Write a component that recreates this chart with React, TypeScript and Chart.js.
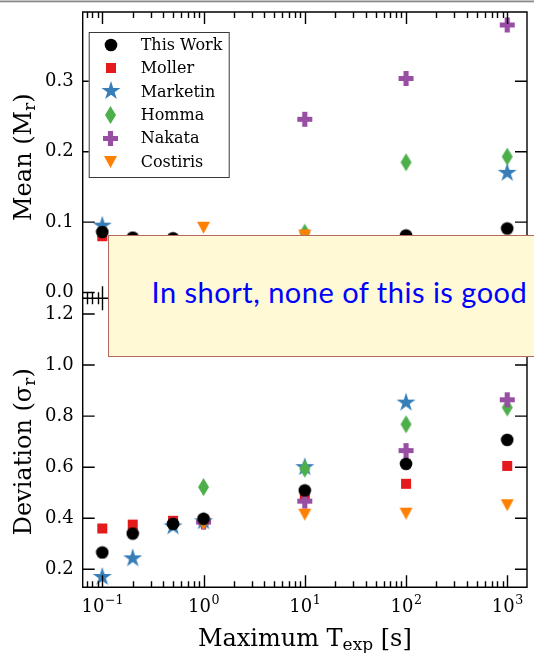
import React, { useEffect, useRef } from 'react';
import { Chart, registerables } from 'chart.js';

Chart.register(...registerables);

// ---------------- data ----------------
const tExp = [0.1, 0.2, 0.5, 1, 10, 100, 1000];

const seriesNames = ['This Work', 'Moller', 'Marketin', 'Homma', 'Nakata', 'Costiris'];
const seriesColors = ['#000000', '#e41a1c', '#377eb8', '#4daf4a', '#984ea3', '#ff7f00'];
const seriesMarkers = ['circle', 'square', 'star', 'thinDiamond', 'plus', 'triangleDown'];
// lower value = drawn on top
const seriesDrawOrder = [0, 5, 4, 3, 2, 1];

const meanThisWork = [0.086, 0.078, 0.077, 0.070, 0.068, 0.081, 0.091];
const meanMoller = [0.080, 0.072, 0.070, 0.066, 0.062, 0.064, 0.066];
const meanMarketin = [0.095, 0.066, 0.064, 0.062, 0.060, 0.068, 0.170];
const meanHomma = [null, null, null, 0.060, 0.085, 0.185, 0.193];
const meanNakata = [null, null, null, 0.055, 0.246, 0.304, 0.380];
const meanCostiris = [null, null, null, 0.092, 0.081, 0.068, 0.070];

const devThisWork = [0.266, 0.340, 0.378, 0.398, 0.509, 0.613, 0.707];
const devMoller = [0.360, 0.375, 0.390, 0.392, 0.485, 0.535, 0.605];
const devMarketin = [0.170, 0.243, 0.368, 0.388, 0.600, 0.853, 1.100];
const devHomma = [null, null, null, 0.522, 0.594, 0.768, 0.834];
const devNakata = [null, null, null, 0.385, 0.467, 0.665, 0.864];
const devCostiris = [null, null, null, 0.376, 0.414, 0.418, 0.451];

const meanRange = [-0.0082, 0.3984];
const devRange = [0.1295, 1.2615];
const xRange = [0.0641, 1567];
const meanStep = 0.1;
const devStep = 0.2;

const meanTitle = [{ t: 'Mean (M', s: false }, { t: 'r', s: true }, { t: ')', s: false }];
const devTitle = [{ t: 'Deviation (σ', s: false }, { t: 'r', s: true }, { t: ')', s: false }];
const xTitle = [{ t: 'Maximum T', s: false }, { t: 'exp', s: true }, { t: ' [s]', s: false }];
const annotationText = 'In short, none of this is good';

// ---------------- helpers ----------------
const SERIF = '"DejaVu Serif", serif';

function makeMarker(kind: string, color: string): HTMLCanvasElement {
  const sizes: Record<string, [number, number]> = {
    circle: [14, 14], square: [12, 12], star: [22, 22],
    thinDiamond: [13, 20], plus: [17, 17], triangleDown: [15, 14],
  };
  const [w, h] = sizes[kind];
  const c = document.createElement('canvas');
  c.width = w; c.height = h;
  const g = c.getContext('2d')!;
  g.fillStyle = color;
  g.beginPath();
  const cx = w / 2, cy = h / 2;
  if (kind === 'circle') {
    g.arc(cx, cy, 6.3, 0, Math.PI * 2);
  } else if (kind === 'square') {
    g.rect(cx - 5, cy - 5, 10, 10);
  } else if (kind === 'star') {
    const R = 10, r = R * 0.382;
    for (let i = 0; i < 10; i++) {
      const a = -Math.PI / 2 + (i * Math.PI) / 5;
      const rad = i % 2 === 0 ? R : r;
      const px = cx + rad * Math.cos(a), py = cy + rad * Math.sin(a);
      if (i === 0) g.moveTo(px, py); else g.lineTo(px, py);
    }
    g.closePath();
  } else if (kind === 'thinDiamond') {
    g.moveTo(cx, cy - 9); g.lineTo(cx + 5.5, cy); g.lineTo(cx, cy + 9); g.lineTo(cx - 5.5, cy); g.closePath();
  } else if (kind === 'plus') {
    const a = 7.5, b = 2.6;
    const pts = [[-b, -a], [b, -a], [b, -b], [a, -b], [a, b], [b, b], [b, a], [-b, a], [-b, b], [-a, b], [-a, -b], [-b, -b]];
    pts.forEach(([px, py], i) => (i === 0 ? g.moveTo(cx + px, cy + py) : g.lineTo(cx + px, cy + py)));
    g.closePath();
  } else if (kind === 'triangleDown') {
    g.moveTo(cx - 6.5, cy - 6); g.lineTo(cx + 6.5, cy - 6); g.lineTo(cx, cy + 6); g.closePath();
  }
  g.fill();
  return c;
}

function toPoints(arr: (number | null)[]) {
  return tExp.map((x, i) => ({ x, y: arr[i] })).filter((p) => p.y !== null);
}

function drawRich(ctx: CanvasRenderingContext2D, parts: { t: string; s: boolean }[], cx: number, baseY: number, mainPx: number, subPx: number, subDrop: number) {
  const mainFont = `${mainPx}px ${SERIF}`;
  const subFont = `${subPx}px ${SERIF}`;
  const widths = parts.map((p) => { ctx.font = p.s ? subFont : mainFont; return ctx.measureText(p.t).width; });
  const total = widths.reduce((a, b) => a + b, 0);
  let x = cx - total / 2;
  ctx.textAlign = 'left';
  ctx.textBaseline = 'alphabetic';
  parts.forEach((p, i) => {
    ctx.font = p.s ? subFont : mainFont;
    ctx.fillText(p.t, x, baseY + (p.s ? subDrop : 0));
    x += widths[i];
  });
}

const SUP: Record<string, string> = { '-': '−' };

export default function App() {
  const ref = useRef<HTMLCanvasElement>(null);

  useEffect(() => {
    const canvas = ref.current!;
    const markers = seriesMarkers.map((m, i) => makeMarker(m, seriesColors[i]));
    const meanSeries = [meanThisWork, meanMoller, meanMarketin, meanHomma, meanNakata, meanCostiris];
    const devSeries = [devThisWork, devMoller, devMarketin, devHomma, devNakata, devCostiris];

    const datasets: any[] = [];
    meanSeries.forEach((arr, i) => datasets.push({
      label: seriesNames[i], data: toPoints(arr), xAxisID: 'x', yAxisID: 'yMean',
      pointStyle: markers[i], pointRadius: 6, pointHoverRadius: 6, order: seriesDrawOrder[i],
      backgroundColor: seriesColors[i], borderColor: seriesColors[i], showLine: false, clip: false,
    }));
    devSeries.forEach((arr, i) => datasets.push({
      label: seriesNames[i], data: toPoints(arr), xAxisID: 'x', yAxisID: 'yDev',
      pointStyle: markers[i], pointRadius: 6, pointHoverRadius: 6, order: seriesDrawOrder[i],
      backgroundColor: seriesColors[i], borderColor: seriesColors[i], showLine: false, clip: false,
    }));

    const framePlugin = {
      id: 'mplFrame',
      afterDraw(chart: any) {
        const ctx: CanvasRenderingContext2D = chart.ctx;
        const xs = chart.scales.x, ym = chart.scales.yMean, yd = chart.scales.yDev;
        const L = chart.chartArea.left, R = chart.chartArea.right;
        ctx.save();
        ctx.strokeStyle = '#000';
        ctx.fillStyle = '#000';
        ctx.lineWidth = 1.4;
        const xTicks = xs.ticks
          .map((t: any) => t.value)
          .filter((v: number) => v >= xs.min && v <= xs.max)
          .filter((v: number) => {
            const e = Math.floor(Math.log10(v) + 1e-9);
            const m = v / Math.pow(10, e);
            return Math.abs(m - Math.round(m)) < 1e-6;
          });
        const isMajor = (v: number) => Math.abs(Math.log10(v) - Math.round(Math.log10(v))) < 1e-6;
        ctx.beginPath();
        for (const ys of [ym, yd]) {
          ctx.rect(L, ys.top, R - L, ys.bottom - ys.top);
          for (const v of xTicks) {
            const px = Math.round(xs.getPixelForValue(v)) + 0.5;
            const len = isMajor(v) ? 12 : 6;
            ctx.moveTo(px, ys.bottom); ctx.lineTo(px, ys.bottom - len);
            ctx.moveTo(px, ys.top); ctx.lineTo(px, ys.top + len);
          }
          for (const t of ys.ticks) {
            if (t.value < ys.min - 1e-9 || t.value > ys.max + 1e-9) continue;
            const py = ys.getPixelForValue(t.value);
            ctx.moveTo(L, py); ctx.lineTo(L + 12, py);
            ctx.moveTo(R, py); ctx.lineTo(R - 12, py);
          }
        }
        ctx.stroke();

        // x tick labels (10^n)
        for (const v of xTicks) {
          if (!isMajor(v)) continue;
          const e = Math.round(Math.log10(v));
          const expStr = String(e).split('').map((ch) => SUP[ch] || ch).join('');
          ctx.font = `18px ${SERIF}`;
          const wBase = ctx.measureText('10').width;
          ctx.font = `12.6px ${SERIF}`;
          const wExp = ctx.measureText(expStr).width;
          const px = xs.getPixelForValue(v);
          const x0 = px - (wBase + wExp) / 2;
          ctx.textAlign = 'left';
          ctx.textBaseline = 'alphabetic';
          ctx.font = `18px ${SERIF}`;
          ctx.fillText('10', x0, 612);
          ctx.font = `12.6px ${SERIF}`;
          ctx.fillText(expStr, x0 + wBase + 0.5, 603.5);
        }

        // axis titles
        drawRich(ctx, xTitle, (L + R) / 2, 646, 24, 17, 4);
        ctx.save();
        ctx.translate(31, (ym.top + ym.bottom) / 2 + 2);
        ctx.rotate(-Math.PI / 2);
        drawRich(ctx, meanTitle, 0, 0, 24, 17, 3.5);
        ctx.restore();
        ctx.save();
        ctx.translate(31, (yd.top + yd.bottom) / 2 + 9);
        ctx.rotate(-Math.PI / 2);
        drawRich(ctx, devTitle, 0, 0, 24, 17, 3.5);
        ctx.restore();

        // legend inside the upper panel
        const lx = L + 6, ly = ym.top + 20, lw = 140, lh = 145;
        ctx.fillStyle = '#ffffff';
        ctx.fillRect(lx, ly, lw, lh);
        ctx.strokeStyle = '#3a3a3a';
        ctx.lineWidth = 1;
        ctx.strokeRect(lx + 0.5, ly + 0.5, lw, lh);
        ctx.fillStyle = '#000';
        ctx.font = `16px ${SERIF}`;
        ctx.textAlign = 'left';
        ctx.textBaseline = 'middle';
        seriesNames.forEach((name, i) => {
          const cy = ly + 12.5 + i * 23.45;
          const m = markers[i];
          ctx.drawImage(m, Math.round(lx + 22 - m.width / 2), Math.round(cy - m.height / 2));
          ctx.fillText(name, lx + 52, cy + 1);
        });
        ctx.restore();
      },
    };

    const yCommon = {
      type: 'linear',
      position: 'left',
      stack: 'panels',
      grid: { display: false, drawTicks: false },
      border: { display: false },
      afterFit: (s: any) => {
        s.width = 82.7;
        s.paddingTop = 0;
        s.paddingBottom = 0;
        s.paddingLeft = 0;
        s.paddingRight = 0;
      },
    };

    const chart = new Chart(canvas, {
      type: 'scatter',
      data: { datasets },
      options: {
        responsive: false,
        animation: false,
        events: [],
        layout: { padding: { top: 12, right: 0.7, left: 0, bottom: 0 } },
        plugins: { legend: { display: false }, tooltip: { enabled: false } },
        scales: {
          x: {
            type: 'logarithmic',
            position: 'bottom',
            min: xRange[0],
            max: xRange[1],
            grid: { display: false, drawTicks: false },
            border: { display: false },
            ticks: { display: false, autoSkip: false },
            afterFit: (s: any) => {
              s.height = 653 - 587.3;
              s.paddingLeft = 0;
              s.paddingRight = 0;
              s.paddingTop = 0;
              s.paddingBottom = 0;
            },
          },
          yDev: {
            ...yCommon,
            min: devRange[0],
            max: devRange[1],
            stackWeight: 289,
            ticks: {
              stepSize: devStep, includeBounds: false, padding: 9, color: '#000',
              font: { family: 'DejaVu Serif', size: 18 },
              callback: (v: any) => Number(v).toFixed(1),
            },
          },
          yMean: {
            ...yCommon,
            min: meanRange[0],
            max: meanRange[1],
            stackWeight: 286.3,
            ticks: {
              stepSize: meanStep, includeBounds: false, padding: 9, color: '#000',
              font: { family: 'DejaVu Serif', size: 18 },
              callback: (v: any) => Math.abs(Number(v)).toFixed(1),
            },
          },
        } as any,
      },
      plugins: [framePlugin as any],
    } as any);
    return () => chart.destroy();
  }, []);

  return (
    <div style={{ position: 'fixed', left: 0, top: 0, width: 534, height: 653, overflow: 'hidden', background: '#fff' }}>
      <canvas ref={ref} width={534} height={653} style={{ display: 'block', width: 534, height: 653 }} />
      <div style={{ position: 'absolute', left: 0, top: 0, width: 534, height: 1, background: '#c4c4c4' }} />
      <div style={{ position: 'absolute', left: 0, top: 1, width: 534, height: 1, background: '#8c8c8c' }} />
      <div style={{ position: 'absolute', left: 0, top: 2, width: 534, height: 1, background: '#d8d8d8' }} />
      <div
        style={{
          position: 'absolute', left: 107.5, top: 235, width: 520, height: 120,
          background: '#fff9d6', border: '1.5px solid #b8675c', boxSizing: 'content-box',
        }}
      >
        <span
          style={{
            position: 'absolute', left: 43, top: 39.4, whiteSpace: 'nowrap',
            fontFamily: 'Lato, "Open Sans", sans-serif', fontSize: 29, lineHeight: 1.2,
            letterSpacing: 0.5, color: '#0000ff',
          }}
        >
          {annotationText}
        </span>
      </div>
    </div>
  );
}
